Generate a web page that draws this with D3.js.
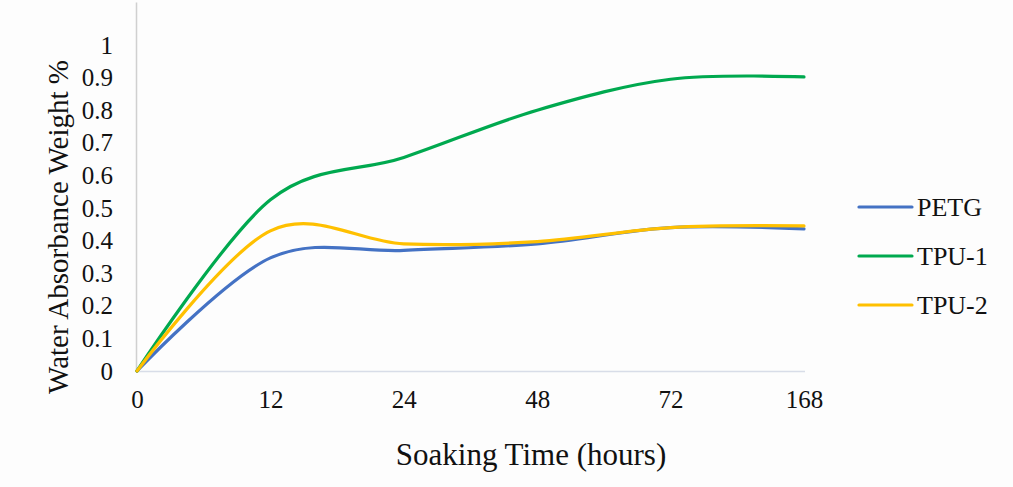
<!DOCTYPE html>
<html>
<head>
<meta charset="utf-8">
<script src="https://cdn.jsdelivr.net/npm/d3@7"></script>
<style>
  html, body { margin: 0; padding: 0; background: #fdfdfd; }
  svg { display: block; }
  text { font-family: "Liberation Serif", "Times New Roman", serif; fill: #111; }
</style>
</head>
<body>
<svg id="chart" width="1013" height="487"></svg>
<script>
// Soaking time categories (hours) and water absorbance weight % per material
const categories = ["0", "12", "24", "48", "72", "168"];
const petg = [0, 0.347, 0.37, 0.39, 0.44, 0.436];
const tpu1 = [0, 0.525, 0.655, 0.80, 0.895, 0.902];
const tpu2 = [0, 0.43, 0.39, 0.397, 0.44, 0.445];
const yTicks = [0, 0.1, 0.2, 0.3, 0.4, 0.5, 0.6, 0.7, 0.8, 0.9, 1];
const seriesNames = ["PETG", "TPU-1", "TPU-2"];
const seriesColors = ["#4472C4", "#00A94F", "#FFC000"];

const series = [petg, tpu1, tpu2].map((values, i) => ({
  name: seriesNames[i], color: seriesColors[i], values
}));

const svg = d3.select("#chart");

const x = d3.scalePoint().domain(categories).range([137, 804]);
const y = d3.scaleLinear().domain([0, 1]).range([371, 45]);

// axis lines
svg.append("line")
  .attr("x1", 136.5).attr("x2", 136.5)
  .attr("y1", y(1.13)).attr("y2", y(0))
  .attr("stroke", "#d0d0d0").attr("stroke-width", 1.5);
svg.append("line")
  .attr("x1", 136).attr("x2", 805)
  .attr("y1", y(0) + 0.5).attr("y2", y(0) + 0.5)
  .attr("stroke", "#d8dde8").attr("stroke-width", 1.5);

// y axis tick labels
const yAxis = svg.append("g")
  .attr("transform", "translate(113,0)")
  .call(d3.axisLeft(y).tickValues(yTicks).tickSize(0).tickPadding(0)
    .tickFormat(d => d === 0 ? "0" : d === 1 ? "1" : d3.format(".1f")(d)));
yAxis.select(".domain").remove();
yAxis.selectAll("text")
  .attr("font-family", "Liberation Serif").attr("font-size", 25).attr("fill", "#111");

// x axis tick labels
const xAxis = svg.append("g")
  .attr("transform", "translate(0,390)")
  .call(d3.axisBottom(x).tickSize(0).tickPadding(0));
xAxis.select(".domain").remove();
xAxis.selectAll("text")
  .attr("font-family", "Liberation Serif").attr("font-size", 25).attr("fill", "#111");

// axis titles
svg.append("text")
  .attr("x", 531).attr("y", 465)
  .attr("text-anchor", "middle")
  .attr("font-size", 31)
  .text("Soaking Time (hours)");
svg.append("text")
  .attr("transform", "translate(68,227) rotate(-90)")
  .attr("text-anchor", "middle")
  .attr("font-size", 29)
  .text("Water Absorbance Weight %");

// smoothed series lines
const line = d3.line()
  .x((d, i) => x(categories[i]))
  .y(d => y(d))
  .curve(d3.curveCatmullRom.alpha(0));

svg.append("g").selectAll("path")
  .data(series)
  .join("path")
  .attr("d", s => line(s.values))
  .attr("fill", "none")
  .attr("stroke", s => s.color)
  .attr("stroke-width", 3.2)
  .attr("stroke-linecap", "round")
  .attr("stroke-linejoin", "round");

// legend
const legend = svg.append("g").selectAll("g")
  .data(series)
  .join("g")
  .attr("transform", (s, i) => `translate(0,${207 + i * 49})`);
legend.append("line")
  .attr("x1", 859).attr("x2", 912)
  .attr("stroke", s => s.color)
  .attr("stroke-width", 3.2)
  .attr("stroke-linecap", "round");
legend.append("text")
  .attr("x", 917).attr("y", 0)
  .attr("dy", "0.35em")
  .attr("font-size", 26)
  .text(s => s.name);
</script>
</body>
</html>
